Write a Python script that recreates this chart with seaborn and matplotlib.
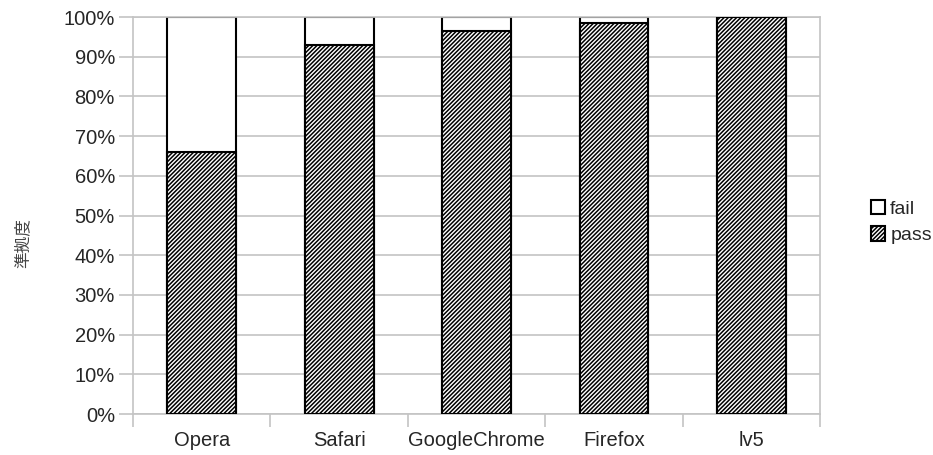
"""Stacked pass/fail compliance chart per browser."""

import matplotlib
matplotlib.use("Agg")
import matplotlib.pyplot as plt
import numpy as np
import pandas as pd
import seaborn as sns
from matplotlib.patches import Patch
from matplotlib.ticker import FixedLocator, PercentFormatter

browsers = ["Opera", "Safari", "GoogleChrome", "Firefox", "lv5"]
pass_rate = [66.0, 93.0, 96.5, 98.5, 100.0]
fail_rate = [34.0, 7.0, 3.5, 1.5, 0.0]
y_ticks = list(range(0, 101, 10))

df = pd.DataFrame({"browser": browsers, "pass": pass_rate, "fail": fail_rate})
df["total"] = df["pass"] + df["fail"]

sns.set_theme(style="white")
plt.rcParams["font.family"] = ["Liberation Sans", "Noto Sans CJK JP", "DejaVu Sans"]
plt.rcParams["hatch.linewidth"] = 1.1
plt.rcParams["hatch.color"] = "black"

GRID = "#c4c4c4"
HATCH = "////////"

fig = plt.figure(figsize=(9.33, 4.55), dpi=100)
ax = fig.add_axes([0.1426, 0.0901, 0.7364, 0.8725])

# fail sits on top of pass: draw the full bar first, then the pass part over it
sns.barplot(data=df, x="browser", y="total", color="white", edgecolor="black",
            linewidth=1.5, width=0.5, saturation=1, ax=ax, zorder=2)
sns.barplot(data=df, x="browser", y="pass", color="white", edgecolor="black",
            linewidth=1.5, width=0.5, saturation=1, ax=ax, zorder=3)
for bar in ax.patches[len(browsers):]:
    bar.set_hatch(HATCH)

ax.set_xlim(-0.5, len(browsers) - 0.5)
ax.set_ylim(0, 100)
ax.yaxis.set_major_locator(FixedLocator(y_ticks))
ax.yaxis.set_major_formatter(PercentFormatter(decimals=0))
ax.grid(axis="y", color=GRID, linewidth=1.2, zorder=0)
ax.set_axisbelow(True)

ax.xaxis.set_minor_locator(FixedLocator(np.arange(-0.5, len(browsers), 1.0)))
ax.tick_params(axis="x", which="major", length=0, labelsize=14.5, pad=12)
ax.tick_params(axis="x", which="minor", length=9, width=1.2, color=GRID, direction="out", bottom=True)
ax.tick_params(axis="y", length=10, width=1.2, color=GRID, direction="out", left=True,
               labelsize=14.5, pad=3)
for spine in ax.spines.values():
    spine.set_color(GRID)
    spine.set_linewidth(1.2)

ax.set_xlabel("")
ax.set_ylabel("")
fig.text(0.024, 0.465, "準拠度", rotation=90, ha="center", va="center",
         fontsize=12, color="#444444")

handles = [
    Patch(facecolor="white", edgecolor="black", linewidth=1.5, label="fail"),
    Patch(facecolor="white", edgecolor="black", linewidth=1.5, hatch=HATCH, label="pass"),
]
fig.legend(handles=handles, loc="center left", bbox_to_anchor=(0.93, 0.512),
           frameon=False, fontsize=14, handlelength=0.75, handleheight=0.75,
           handletextpad=0.25, labelspacing=0.45, borderaxespad=0)
# nudge the legend so the swatches line up with the reference column
fig.legends[0].set_bbox_to_anchor((0.925, 0.512), transform=fig.transFigure)

fig.savefig("out.png", dpi=100)
